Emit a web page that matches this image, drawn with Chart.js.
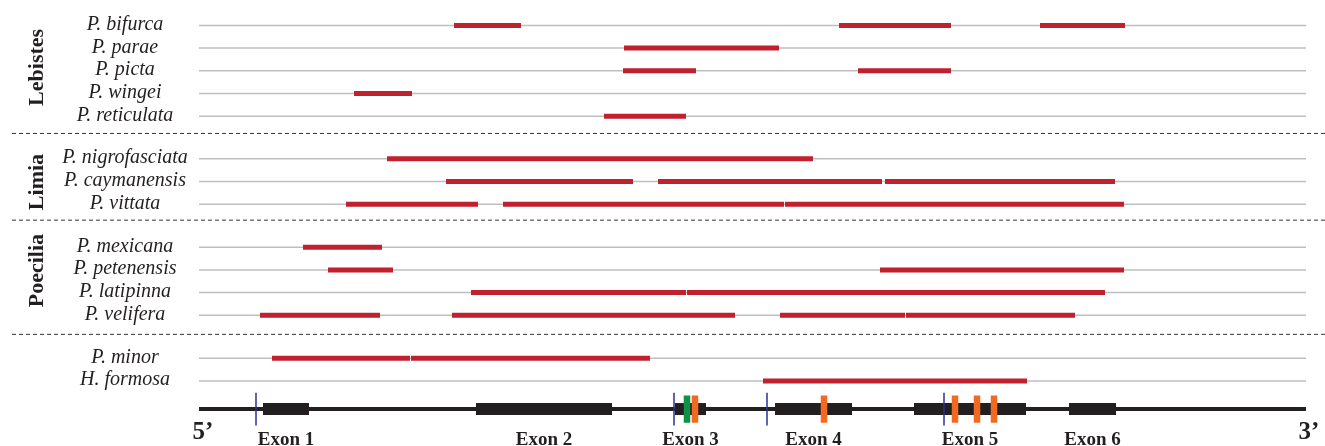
<!DOCTYPE html>
<html>
<head>
<meta charset="utf-8">
<script src="https://cdn.jsdelivr.net/npm/chart.js@4"></script>
<style>
  html, body { margin: 0; padding: 0; background: #fff; }
  canvas { display: block; }
</style>
</head>
<body>
<canvas id="map" width="1325" height="446"></canvas>
<script>
// species rows, top to bottom
const species = ['P. bifurca', 'P. parae', 'P. picta', 'P. wingei', 'P. reticulata',
    'P. nigrofasciata', 'P. caymanensis', 'P. vittata',
    'P. mexicana', 'P. petenensis', 'P. latipinna', 'P. velifera',
    'P. minor', 'H. formosa'];
const lanes = [0, 1, 2, 3, 4, 5.88, 6.88, 7.88, 9.77, 10.77, 11.77, 12.77, 14.66, 15.66];

// aligned regions per species (gene position, 0..1107)
const regions = [
    [[255, 322], [640, 752], [841, 926]],
    [[425, 580]],
    [[424, 497], [659, 752]],
    [[155, 213]],
    [[405, 487]],
    [[188, 614]],
    [[247, 434], [459, 683], [686, 916]],
    [[147, 279], [304, 585], [586, 925]],
    [[104, 183]],
    [[129, 194], [681, 925]],
    [[272, 487], [488, 906]],
    [[61, 181], [253, 536], [581, 706], [707, 876]],
    [[73, 211], [212, 451]],
    [[564, 828]]
];

const groups = ['Lebistes', 'Limia', 'Poecilia'];
const groupCenters = [1.85, 6.9, 10.8];
const separators = [4.76, 8.58, 13.61];

// gene model
const geneLane = 16.9;
const geneLength = 1107;
const exonNames = ['Exon 1', 'Exon 2', 'Exon 3', 'Exon 4', 'Exon 5', 'Exon 6'];
const exons = [[64, 110], [277, 413], [476, 507], [576, 653], [715, 827], [870, 917]];
const blueTicks = [57, 475, 568, 745];
const greenMarks = [488];
const orangeMarks = [496, 625, 756, 778, 795];

const RED = '#c1202f';
const GREY = '#bfbfbf';

function seg(x0, x1, y0, y1) {
    return [{ x: x0, y: y0 }, { x: x1, y: y1 }];
}
function line(data, color, width, extra) {
    return Object.assign({
        data: data, showLine: true, borderColor: color, borderWidth: width,
        pointRadius: 0, borderCapStyle: 'butt', fill: false
    }, extra || {});
}

const datasets = [];
lanes.forEach(y => datasets.push(line(seg(0, geneLength, y, y), GREY, 1.5)));
regions.forEach((list, i) => {
    list.forEach(r => datasets.push(line(seg(r[0], r[1], lanes[i], lanes[i]), RED, 5)));
});
separators.forEach(y => datasets.push(line(seg(-187, 1126, y, y), '#333', 1, { borderDash: [4, 3], clip: false })));
datasets.push(line(seg(0, geneLength, geneLane, geneLane), '#231f20', 4));
exons.forEach(e => datasets.push(line(seg(e[0], e[1], geneLane, geneLane), '#231f20', 12)));
blueTicks.forEach(x => datasets.push(line(seg(x, x, geneLane - 0.72, geneLane + 0.72), '#2e3192', 1.5)));
greenMarks.forEach(x => datasets.push(line(seg(x, x, geneLane - 0.6, geneLane + 0.6), '#0f9146', 6.5)));
orangeMarks.forEach(x => datasets.push(line(seg(x, x, geneLane - 0.6, geneLane + 0.6), '#f26a21', 6.5)));

// chart.js paints lower order on top, so later pushes get lower order
datasets.forEach((d, i) => { d.order = datasets.length - i; });

const labelsPlugin = {
    id: 'labels',
    afterDatasetsDraw(chart) {
        const ctx = chart.ctx;
        const xs = chart.scales.x, ys = chart.scales.y;
        ctx.save();
        ctx.fillStyle = '#231f20';

        ctx.font = 'italic 20px "Liberation Serif"';
        ctx.textAlign = 'center';
        ctx.textBaseline = 'alphabetic';
        species.forEach((s, i) => ctx.fillText(s, 125, ys.getPixelForValue(lanes[i]) + 4.5));

        ctx.font = 'bold 22px "Liberation Serif"';
        ctx.textBaseline = 'middle';
        groups.forEach((g, i) => {
            ctx.save();
            ctx.translate(37, ys.getPixelForValue(groupCenters[i]));
            ctx.rotate(-Math.PI / 2);
            ctx.fillText(g, 0, 0);
            ctx.restore();
        });

        ctx.font = 'bold 19px "Liberation Serif"';
        ctx.textBaseline = 'alphabetic';
        exons.forEach((e, i) => ctx.fillText(exonNames[i], xs.getPixelForValue((e[0] + e[1]) / 2), 445));

        ctx.font = 'bold 25px "Liberation Serif"';
        ctx.fillText('5\u2019', xs.getPixelForValue(4), 439);
        ctx.fillText('3\u2019', xs.getPixelForValue(1110), 439);
        ctx.restore();
    }
};

new Chart(document.getElementById('map'), {
    type: 'scatter',
    data: { datasets: datasets },
    options: {
        responsive: false,
        animation: false,
        devicePixelRatio: 1,
        layout: { padding: { left: 199, right: 19, top: 2, bottom: 2 } },
        scales: {
            x: { type: 'linear', min: 0, max: geneLength, display: false },
            y: { type: 'linear', min: -1.03, max: 18.44, reverse: true, display: false }
        },
        plugins: { legend: { display: false }, tooltip: { enabled: false } }
    },
    plugins: [labelsPlugin]
});
</script>
</body>
</html>
